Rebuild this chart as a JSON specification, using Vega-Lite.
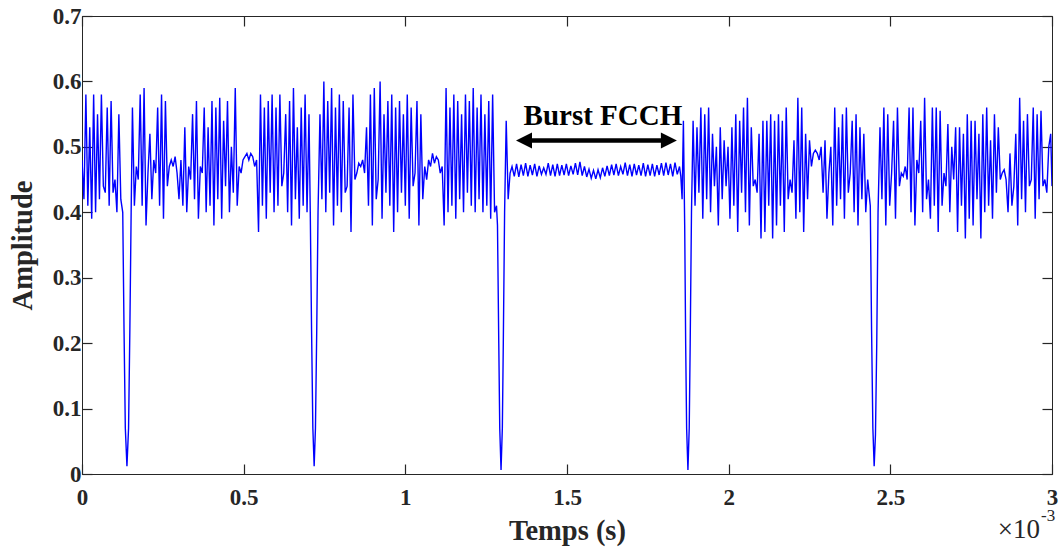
{
"$schema":"https://vega.github.io/schema/vega-lite/v6.json",
"width":970,"height":458,
"autosize":{"type":"none"},
"padding":{"left":82,"top":16,"right":10,"bottom":76},
"background":"white",
"config":{"view":{"stroke":"#262626","strokeWidth":1},"font":"Liberation Serif",
"axis":{"grid":false,"domainColor":"#262626","tickColor":"#262626","labelColor":"#262626","titleColor":"#262626","labelFont":"Liberation Serif","titleFont":"Liberation Serif","labelFontWeight":"bold","titleFontWeight":"bold","labelFontSize":23,"titleFontSize":28.5,"tickSize":-10,"tickWidth":1.2,"domainWidth":1}},
"resolve":{"axis":{"x":"independent","y":"independent"}},
"layer":[
{"data":{"values":[
{"t":0,"a":0.48},{"t":6,"a":0.42},{"t":12,"a":0.58},{"t":18,"a":0.41},{"t":24,"a":0.53},{"t":30,"a":0.39},{"t":36,"a":0.58},{"t":42,"a":0.40},{"t":48,"a":0.55},{"t":54,"a":0.42},{"t":60,"a":0.58},{"t":66,"a":0.44},{"t":72,"a":0.43},{"t":78,"a":0.56},{"t":84,"a":0.41},{"t":90,"a":0.57},{"t":96,"a":0.43},{"t":102,"a":0.45},{"t":108,"a":0.40},{"t":114,"a":0.55},{"t":120,"a":0.42},
{"t":126,"a":0.40},{"t":130,"a":0.22},{"t":134,"a":0.07},{"t":139,"a":0.012},{"t":144,"a":0.07},{"t":148,"a":0.22},{"t":152,"a":0.40},
{"t":156,"a":0.56},{"t":162,"a":0.41},{"t":168,"a":0.47},{"t":174,"a":0.45},{"t":180,"a":0.58},{"t":186,"a":0.41},{"t":192,"a":0.59},{"t":198,"a":0.38},{"t":204,"a":0.46},{"t":210,"a":0.52},{"t":216,"a":0.42},{"t":222,"a":0.48},{"t":228,"a":0.46},{"t":234,"a":0.56},{"t":240,"a":0.41},{"t":246,"a":0.58},{"t":252,"a":0.39},{"t":258,"a":0.57},{"t":264,"a":0.44},{"t":270,"a":0.47},{"t":276,"a":0.48},{"t":282,"a":0.47},{"t":288,"a":0.485},{"t":294,"a":0.46},{"t":300,"a":0.42},{"t":306,"a":0.48},{"t":312,"a":0.41},{"t":318,"a":0.53},{"t":324,"a":0.40},{"t":330,"a":0.47},{"t":336,"a":0.45},{"t":342,"a":0.55},{"t":348,"a":0.42},{"t":354,"a":0.57},{"t":360,"a":0.39},{"t":366,"a":0.47},{"t":372,"a":0.46},{"t":378,"a":0.56},{"t":384,"a":0.40},{"t":390,"a":0.53},{"t":396,"a":0.41},{"t":402,"a":0.57},{"t":408,"a":0.38},{"t":414,"a":0.56},{"t":420,"a":0.42},{"t":426,"a":0.575},{"t":432,"a":0.39},{"t":438,"a":0.54},{"t":444,"a":0.44},{"t":450,"a":0.57},{"t":456,"a":0.40},{"t":462,"a":0.50},{"t":468,"a":0.43},{"t":474,"a":0.59},{"t":480,"a":0.41},{"t":486,"a":0.47},{"t":492,"a":0.46},{"t":498,"a":0.48},{"t":504,"a":0.485},{"t":510,"a":0.49},{"t":516,"a":0.48},{"t":522,"a":0.49},{"t":528,"a":0.485},{"t":534,"a":0.47},{"t":540,"a":0.48},{"t":546,"a":0.37},{"t":552,"a":0.58},{"t":558,"a":0.41},{"t":564,"a":0.56},{"t":570,"a":0.39},{"t":576,"a":0.57},{"t":582,"a":0.43},{"t":588,"a":0.58},{"t":594,"a":0.40},{"t":600,"a":0.56},{"t":606,"a":0.41},{"t":612,"a":0.58},{"t":618,"a":0.44},{"t":624,"a":0.46},{"t":630,"a":0.55},{"t":636,"a":0.40},{"t":642,"a":0.57},{"t":648,"a":0.38},{"t":654,"a":0.59},{"t":660,"a":0.42},{"t":666,"a":0.53},{"t":672,"a":0.39},{"t":678,"a":0.56},{"t":684,"a":0.41},{"t":690,"a":0.58},{"t":696,"a":0.40},{"t":702,"a":0.55},
{"t":706,"a":0.40},{"t":710,"a":0.22},{"t":714,"a":0.07},{"t":718,"a":0.012},{"t":722,"a":0.07},{"t":726,"a":0.22},{"t":730,"a":0.40},
{"t":736,"a":0.55},{"t":742,"a":0.42},{"t":748,"a":0.60},{"t":754,"a":0.40},{"t":760,"a":0.57},{"t":766,"a":0.43},{"t":772,"a":0.59},{"t":778,"a":0.38},{"t":784,"a":0.56},{"t":790,"a":0.41},{"t":796,"a":0.58},{"t":802,"a":0.40},{"t":808,"a":0.57},{"t":814,"a":0.43},{"t":820,"a":0.44},{"t":826,"a":0.56},{"t":832,"a":0.37},{"t":838,"a":0.58},{"t":844,"a":0.45},{"t":850,"a":0.46},{"t":856,"a":0.475},{"t":862,"a":0.47},{"t":868,"a":0.48},{"t":874,"a":0.46},{"t":880,"a":0.53},{"t":886,"a":0.41},{"t":892,"a":0.58},{"t":898,"a":0.38},{"t":904,"a":0.59},{"t":910,"a":0.42},{"t":916,"a":0.45},{"t":922,"a":0.60},{"t":928,"a":0.39},{"t":934,"a":0.55},{"t":940,"a":0.43},{"t":946,"a":0.57},{"t":952,"a":0.41},{"t":958,"a":0.58},{"t":964,"a":0.37},{"t":970,"a":0.56},{"t":976,"a":0.40},{"t":982,"a":0.57},{"t":988,"a":0.43},{"t":994,"a":0.55},{"t":1000,"a":0.41},{"t":1006,"a":0.58},{"t":1012,"a":0.39},{"t":1018,"a":0.56},{"t":1024,"a":0.44},{"t":1030,"a":0.46},{"t":1036,"a":0.57},{"t":1042,"a":0.38},{"t":1048,"a":0.55},{"t":1054,"a":0.42},{"t":1060,"a":0.47},{"t":1066,"a":0.45},{"t":1072,"a":0.48},{"t":1078,"a":0.47},{"t":1084,"a":0.49},{"t":1090,"a":0.475},{"t":1096,"a":0.485},{"t":1102,"a":0.48},{"t":1108,"a":0.46},{"t":1114,"a":0.47},{"t":1120,"a":0.38},{"t":1126,"a":0.59},{"t":1132,"a":0.40},{"t":1138,"a":0.56},{"t":1144,"a":0.41},{"t":1150,"a":0.58},{"t":1156,"a":0.39},{"t":1162,"a":0.57},{"t":1168,"a":0.42},{"t":1174,"a":0.55},{"t":1180,"a":0.40},{"t":1186,"a":0.58},{"t":1192,"a":0.43},{"t":1198,"a":0.57},{"t":1204,"a":0.41},{"t":1210,"a":0.59},{"t":1216,"a":0.40},{"t":1222,"a":0.56},{"t":1228,"a":0.42},{"t":1234,"a":0.58},{"t":1240,"a":0.40},{"t":1246,"a":0.55},{"t":1252,"a":0.41},{"t":1258,"a":0.57},{"t":1264,"a":0.39},{"t":1270,"a":0.58},{"t":1276,"a":0.40},
{"t":1282,"a":0.41},{"t":1285,"a":0.38},{"t":1289,"a":0.2},{"t":1292,"a":0.07},{"t":1296,"a":0.006},{"t":1300,"a":0.07},{"t":1303,"a":0.2},{"t":1307,"a":0.40},{"t":1312,"a":0.54},{"t":1318,"a":0.42},{"t":1324,"a":0.46},
{"t":1330,"a":0.470},{"t":1337,"a":0.455},{"t":1344,"a":0.474},{"t":1351,"a":0.454},{"t":1358,"a":0.473},{"t":1365,"a":0.456},{"t":1372,"a":0.475},{"t":1379,"a":0.455},{"t":1386,"a":0.472},{"t":1393,"a":0.457},{"t":1400,"a":0.474},{"t":1407,"a":0.455},{"t":1414,"a":0.471},{"t":1421,"a":0.458},{"t":1428,"a":0.468},{"t":1435,"a":0.458},{"t":1442,"a":0.475},{"t":1449,"a":0.456},{"t":1456,"a":0.473},{"t":1463,"a":0.455},{"t":1470,"a":0.474},{"t":1477,"a":0.456},{"t":1484,"a":0.472},{"t":1491,"a":0.457},{"t":1498,"a":0.474},{"t":1505,"a":0.456},{"t":1512,"a":0.471},{"t":1519,"a":0.458},{"t":1526,"a":0.475},{"t":1533,"a":0.457},{"t":1540,"a":0.477},{"t":1547,"a":0.456},{"t":1554,"a":0.470},{"t":1561,"a":0.454},{"t":1568,"a":0.466},{"t":1575,"a":0.452},{"t":1582,"a":0.464},{"t":1589,"a":0.451},{"t":1596,"a":0.465},{"t":1603,"a":0.453},{"t":1610,"a":0.468},{"t":1617,"a":0.455},{"t":1624,"a":0.471},{"t":1631,"a":0.456},{"t":1638,"a":0.473},{"t":1645,"a":0.457},{"t":1652,"a":0.474},{"t":1659,"a":0.456},{"t":1666,"a":0.470},{"t":1673,"a":0.458},{"t":1680,"a":0.476},{"t":1687,"a":0.456},{"t":1694,"a":0.473},{"t":1701,"a":0.455},{"t":1708,"a":0.474},{"t":1715,"a":0.457},{"t":1722,"a":0.472},{"t":1729,"a":0.456},{"t":1736,"a":0.475},{"t":1743,"a":0.455},{"t":1750,"a":0.473},{"t":1757,"a":0.456},{"t":1764,"a":0.474},{"t":1771,"a":0.455},{"t":1778,"a":0.472},{"t":1785,"a":0.457},{"t":1792,"a":0.475},{"t":1799,"a":0.456},{"t":1806,"a":0.476},{"t":1813,"a":0.457},{"t":1820,"a":0.474},{"t":1827,"a":0.455},{"t":1834,"a":0.476},{"t":1841,"a":0.458},{"t":1848,"a":0.470},
{"t":1852,"a":0.455},{"t":1856,"a":0.42},{"t":1860,"a":0.54},{"t":1864,"a":0.38},{"t":1867,"a":0.2},{"t":1870,"a":0.07},{"t":1874,"a":0.006},{"t":1878,"a":0.07},{"t":1881,"a":0.2},{"t":1885,"a":0.40},
{"t":1890,"a":0.54},{"t":1896,"a":0.41},{"t":1902,"a":0.53},{"t":1908,"a":0.43},{"t":1914,"a":0.56},{"t":1920,"a":0.39},{"t":1926,"a":0.55},{"t":1932,"a":0.42},{"t":1938,"a":0.56},{"t":1944,"a":0.40},{"t":1950,"a":0.52},{"t":1956,"a":0.44},{"t":1962,"a":0.50},{"t":1968,"a":0.38},{"t":1974,"a":0.53},{"t":1980,"a":0.42},{"t":1986,"a":0.51},{"t":1992,"a":0.44},{"t":1998,"a":0.50},{"t":2004,"a":0.39},{"t":2010,"a":0.53},{"t":2016,"a":0.41},{"t":2022,"a":0.55},{"t":2028,"a":0.37},{"t":2034,"a":0.54},{"t":2040,"a":0.43},{"t":2046,"a":0.56},{"t":2052,"a":0.40},{"t":2058,"a":0.575},{"t":2064,"a":0.38},{"t":2070,"a":0.53},{"t":2076,"a":0.44},{"t":2082,"a":0.45},{"t":2088,"a":0.43},{"t":2094,"a":0.52},{"t":2100,"a":0.36},{"t":2106,"a":0.54},{"t":2112,"a":0.37},{"t":2118,"a":0.54},{"t":2124,"a":0.41},{"t":2130,"a":0.55},{"t":2136,"a":0.36},{"t":2142,"a":0.54},{"t":2148,"a":0.38},{"t":2154,"a":0.55},{"t":2160,"a":0.41},{"t":2166,"a":0.54},{"t":2172,"a":0.37},{"t":2178,"a":0.56},{"t":2184,"a":0.42},{"t":2190,"a":0.45},{"t":2196,"a":0.43},{"t":2202,"a":0.51},{"t":2208,"a":0.39},{"t":2214,"a":0.575},{"t":2220,"a":0.40},{"t":2226,"a":0.56},{"t":2232,"a":0.37},{"t":2238,"a":0.52},{"t":2244,"a":0.42},{"t":2250,"a":0.51},{"t":2256,"a":0.47},{"t":2262,"a":0.49},{"t":2268,"a":0.495},{"t":2274,"a":0.49},{"t":2280,"a":0.48},{"t":2286,"a":0.50},{"t":2292,"a":0.43},{"t":2298,"a":0.51},{"t":2304,"a":0.39},{"t":2310,"a":0.46},{"t":2316,"a":0.50},{"t":2322,"a":0.38},{"t":2328,"a":0.56},{"t":2334,"a":0.41},{"t":2340,"a":0.53},{"t":2346,"a":0.42},{"t":2352,"a":0.55},{"t":2358,"a":0.39},{"t":2364,"a":0.56},{"t":2370,"a":0.43},{"t":2376,"a":0.46},{"t":2382,"a":0.54},{"t":2388,"a":0.40},{"t":2394,"a":0.55},{"t":2400,"a":0.38},{"t":2406,"a":0.53},{"t":2412,"a":0.42},{"t":2418,"a":0.52},{"t":2424,"a":0.40},{"t":2430,"a":0.45},
{"t":2438,"a":0.41},{"t":2442,"a":0.22},{"t":2446,"a":0.07},{"t":2450,"a":0.012},{"t":2454,"a":0.06},{"t":2458,"a":0.2},{"t":2462,"a":0.40},
{"t":2468,"a":0.53},{"t":2474,"a":0.42},{"t":2480,"a":0.56},{"t":2486,"a":0.38},{"t":2492,"a":0.55},{"t":2498,"a":0.41},{"t":2504,"a":0.46},{"t":2510,"a":0.54},{"t":2516,"a":0.39},{"t":2522,"a":0.56},{"t":2528,"a":0.44},{"t":2534,"a":0.46},{"t":2540,"a":0.455},{"t":2546,"a":0.47},{"t":2552,"a":0.45},{"t":2558,"a":0.56},{"t":2564,"a":0.40},{"t":2570,"a":0.56},{"t":2576,"a":0.38},{"t":2582,"a":0.48},{"t":2588,"a":0.46},{"t":2594,"a":0.54},{"t":2600,"a":0.40},{"t":2606,"a":0.575},{"t":2612,"a":0.42},{"t":2618,"a":0.45},{"t":2624,"a":0.39},{"t":2630,"a":0.56},{"t":2636,"a":0.41},{"t":2642,"a":0.56},{"t":2648,"a":0.37},{"t":2654,"a":0.555},{"t":2660,"a":0.41},{"t":2666,"a":0.46},{"t":2672,"a":0.44},{"t":2678,"a":0.535},{"t":2684,"a":0.40},{"t":2690,"a":0.50},{"t":2696,"a":0.45},{"t":2702,"a":0.53},{"t":2708,"a":0.37},{"t":2714,"a":0.53},{"t":2720,"a":0.41},{"t":2726,"a":0.52},{"t":2732,"a":0.36},{"t":2738,"a":0.55},{"t":2744,"a":0.39},{"t":2750,"a":0.54},{"t":2756,"a":0.38},{"t":2762,"a":0.54},{"t":2768,"a":0.42},{"t":2774,"a":0.52},{"t":2780,"a":0.36},{"t":2786,"a":0.55},{"t":2792,"a":0.40},{"t":2798,"a":0.56},{"t":2804,"a":0.41},{"t":2810,"a":0.51},{"t":2816,"a":0.39},{"t":2822,"a":0.55},{"t":2828,"a":0.43},{"t":2834,"a":0.53},{"t":2840,"a":0.45},{"t":2846,"a":0.46},{"t":2852,"a":0.465},{"t":2858,"a":0.45},{"t":2864,"a":0.40},{"t":2870,"a":0.49},{"t":2876,"a":0.41},{"t":2882,"a":0.44},{"t":2888,"a":0.52},{"t":2894,"a":0.38},{"t":2900,"a":0.575},{"t":2906,"a":0.42},{"t":2912,"a":0.54},{"t":2918,"a":0.40},{"t":2924,"a":0.55},{"t":2930,"a":0.44},{"t":2936,"a":0.45},{"t":2942,"a":0.56},{"t":2948,"a":0.39},{"t":2954,"a":0.55},{"t":2960,"a":0.42},{"t":2966,"a":0.555},{"t":2972,"a":0.44},{"t":2978,"a":0.45},{"t":2984,"a":0.43},{"t":2990,"a":0.50},{"t":2996,"a":0.52},{"t":3000,"a":0.44}
]},
"mark":{"type":"line","color":"#0000ff","strokeWidth":1.4,"clip":true},
"encoding":{
"x":{"field":"t","type":"quantitative","scale":{"domain":[0,3000],"nice":false,"zero":false},
"axis":{"orient":"bottom","title":"Temps (s)","values":[0,500,1000,1500,2000,2500,3000],"labelExpr":"format(datum.value/1000,'~g')","labelPadding":22,"titlePadding":7,"labelFlush":false}},
"y":{"field":"a","type":"quantitative","scale":{"domain":[0,0.7],"nice":false},
"axis":{"orient":"left","title":"Amplitude","values":[0,0.1,0.2,0.3,0.4,0.5,0.6,0.7],"format":"~g","labelPadding":11,"titlePadding":15,"labelFlush":false}}}},
{"data":{"values":[{"x1":1367,"x2":1815,"y":0.5097}]},
"mark":{"type":"rule","strokeWidth":4.3,"color":"black"},
"encoding":{"x":{"field":"x1","type":"quantitative","axis":{"orient":"top","labels":false,"title":null,"domain":false,"values":[0,500,1000,1500,2000,2500,3000]}},"x2":{"field":"x2"},"y":{"field":"y","type":"quantitative","axis":{"orient":"right","labels":false,"title":null,"domain":false,"values":[0,0.1,0.2,0.3,0.4,0.5,0.6,0.7]}}}},
{"data":{"values":[{"x":1367,"y":0.5097}]},
"mark":{"type":"point","shape":"M-1,0L1,-1L1,1Z","filled":true,"color":"black","opacity":1,"size":256,"strokeWidth":0},
"encoding":{"x":{"field":"x","type":"quantitative","axis":null},"y":{"field":"y","type":"quantitative","axis":null}}},
{"data":{"values":[{"x":1815,"y":0.5097}]},
"mark":{"type":"point","shape":"M1,0L-1,-1L-1,1Z","filled":true,"color":"black","opacity":1,"size":256,"strokeWidth":0},
"encoding":{"x":{"field":"x","type":"quantitative","axis":null},"y":{"field":"y","type":"quantitative","axis":null}}},
{"data":{"values":[{"x":1611,"y":0.5334,"label":"Burst FCCH"}]},
"mark":{"type":"text","font":"Liberation Serif","fontWeight":"bold","fontSize":29,"align":"center","baseline":"alphabetic","color":"black"},
"encoding":{"x":{"field":"x","type":"quantitative","axis":null},"y":{"field":"y","type":"quantitative","axis":null},"text":{"field":"label"}}},
{"data":{"values":[{"x":2963,"y":-0.0978,"label":"×10"}]},
"mark":{"type":"text","font":"Liberation Serif","fontSize":27,"align":"right","baseline":"alphabetic","color":"#262626"},
"encoding":{"x":{"field":"x","type":"quantitative","axis":null},"y":{"field":"y","type":"quantitative","axis":null},"text":{"field":"label"}}},
{"data":{"values":[{"x":2966,"y":-0.0725,"label":"-3"}]},
"mark":{"type":"text","font":"Liberation Serif","fontSize":17,"align":"left","baseline":"alphabetic","color":"#262626"},
"encoding":{"x":{"field":"x","type":"quantitative","axis":null},"y":{"field":"y","type":"quantitative","axis":null},"text":{"field":"label"}}}
]
}
